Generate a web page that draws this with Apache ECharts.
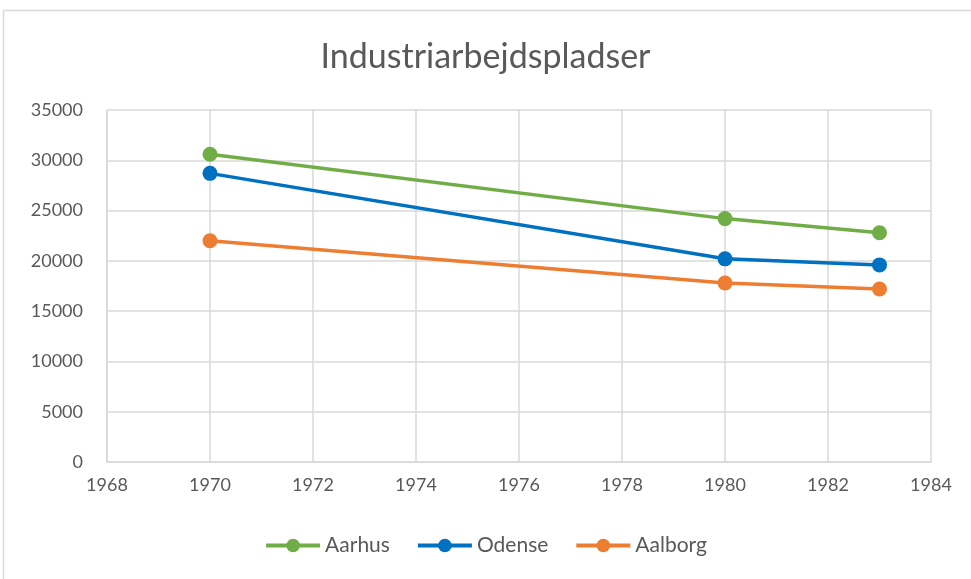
<!DOCTYPE html>
<html>
<head>
<meta charset="utf-8">
<script src="https://cdn.jsdelivr.net/npm/echarts@6/dist/echarts.min.js"></script>
<style>
  html, body { margin: 0; padding: 0; background: #fff; }
  #chart { width: 971px; height: 579px; }
</style>
</head>
<body>
<div id="chart"></div>
<script>
// years and values
var years = [1970, 1980, 1983];
var aarhus = [30600, 24200, 22800];
var odense = [28700, 20200, 19600];
var aalborg = [22000, 17800, 17200];

var seriesNames = ["Aarhus", "Odense", "Aalborg"];
var seriesColors = ["#70ad47", "#0070c0", "#ed7d31"];
var seriesData = [aarhus, odense, aalborg];

function pairs(xs, ys) {
  var out = [];
  for (var i = 0; i < xs.length; i++) {
    out.push([xs[i], ys[i]]);
  }
  return out;
}

var chart = echarts.init(document.getElementById("chart"));
var txt = "#595959";
var font = "Lato, 'Open Sans', sans-serif";

var series = [];
for (var i = 0; i < seriesNames.length; i++) {
  series.push({
    name: seriesNames[i],
    type: "line",
    data: pairs(years, seriesData[i]),
    symbol: "circle",
    symbolSize: 15,
    lineStyle: { width: 3.5, color: seriesColors[i] },
    itemStyle: { color: seriesColors[i] },
    z: 10 - i
  });
}

chart.setOption({
  animation: false,
  textStyle: { fontFamily: font },
  graphic: [{
    type: "rect",
    shape: { x: 3.5, y: 10.5, width: 980, height: 600 },
    style: { fill: null, stroke: "#d9d9d9", lineWidth: 1.5 },
    silent: true
  }],
  title: {
    text: "Industriarbejdspladser",
    left: "center",
    top: 35,
    textStyle: { fontSize: 34, fontWeight: "normal", color: txt, fontFamily: font }
  },
  legend: {
    bottom: 18,
    left: "center",
    itemWidth: 54,
    itemHeight: 17,
    itemGap: 26,
    itemStyle: { borderWidth: 0 },
    lineStyle: { width: 4 },
    textStyle: { fontSize: 21, color: txt, fontFamily: font },
    data: seriesNames
  },
  grid: { left: 107, right: 40, top: 110, bottom: 117 },
  xAxis: {
    type: "value",
    min: 1968,
    max: 1984,
    interval: 2,
    axisLine: { show: true, lineStyle: { color: "#d9d9d9", width: 1.5 } },
    axisTick: { show: false },
    splitLine: { show: true, lineStyle: { color: "#d9d9d9", width: 1.5 } },
    axisLabel: { color: txt, fontSize: 18, margin: 14, fontFamily: font, formatter: function (v) { return String(v); } }
  },
  yAxis: {
    type: "value",
    min: 0,
    max: 35000,
    interval: 5000,
    axisLine: { show: true, lineStyle: { color: "#d9d9d9", width: 1.5 } },
    axisTick: { show: false },
    splitLine: { show: true, lineStyle: { color: "#d9d9d9", width: 1.5 } },
    axisLabel: { color: txt, fontSize: 18, margin: 24, fontFamily: font, formatter: function (v) { return String(v); } }
  },
  series: series
});
</script>
</body>
</html>
